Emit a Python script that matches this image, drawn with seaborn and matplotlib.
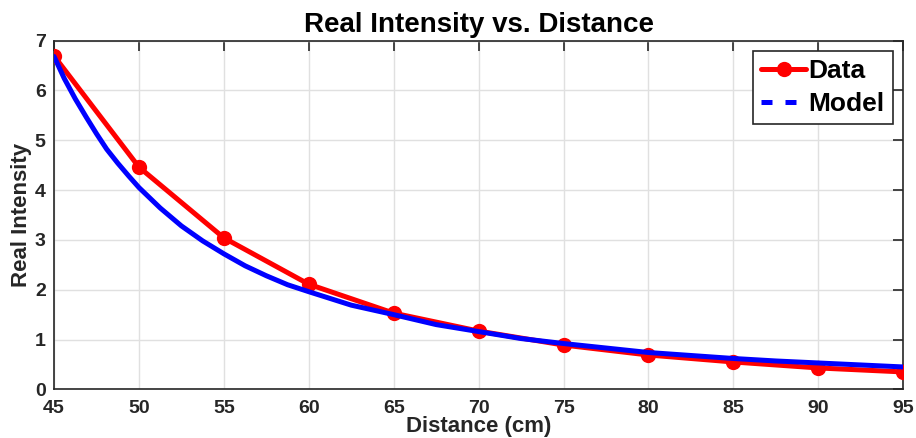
import matplotlib
matplotlib.use("Agg")
import matplotlib.pyplot as plt
from matplotlib.lines import Line2D
import seaborn as sns
import pandas as pd

# Measured data
distance = [45, 50, 55, 60, 65, 70, 75, 80, 85, 90, 95]
intensity = [6.69, 4.46, 3.04, 2.11, 1.53, 1.17, 0.89, 0.69, 0.55, 0.43, 0.35]

# Model curve
model_distance = [45, 45.6, 46.25, 46.9, 47.5, 48.1, 48.75, 49.4, 50, 51.25, 52.5, 53.75, 55,
                  56.25, 57.5, 58.75, 60, 62.5, 65, 67.5, 70, 72.5, 75, 77.5, 80, 82.5, 85,
                  87.5, 90, 92.5, 95]
model_intensity = [6.68, 6.24, 5.83, 5.46, 5.13, 4.82, 4.54, 4.28, 4.05, 3.64, 3.28, 2.98, 2.72,
                   2.48, 2.28, 2.10, 1.96, 1.69, 1.50, 1.30, 1.16, 1.02, 0.92, 0.83, 0.74, 0.68,
                   0.62, 0.57, 0.53, 0.49, 0.45]

x_ticks = [45, 50, 55, 60, 65, 70, 75, 80, 85, 90, 95]
y_ticks = [0, 1, 2, 3, 4, 5, 6, 7]

sns.set_style("white")
plt.rcParams['font.family'] = ['Liberation Sans', 'DejaVu Sans']
plt.rcParams['font.weight'] = 'bold'

df_data = pd.DataFrame({"d": distance, "i": intensity})
df_model = pd.DataFrame({"d": model_distance, "i": model_intensity})

fig = plt.figure(figsize=(9.16, 4.38), dpi=100)
ax = fig.add_axes([0.059, 0.111, 0.927, 0.7965])

sns.lineplot(data=df_data, x="d", y="i", ax=ax, color="#ff0000", lw=3.6,
             marker="o", markersize=11, markeredgewidth=0, zorder=3)
sns.lineplot(data=df_model, x="d", y="i", ax=ax, color="#0000ff", lw=3.6, zorder=4)

ax.set_xlim(45, 95)
ax.set_ylim(0, 7)
ax.set_xticks(x_ticks)
ax.set_yticks(y_ticks)
ax.set_xticklabels([str(v) for v in x_ticks], fontsize=14, fontweight='bold', color='#262626')
ax.set_yticklabels([str(v) for v in y_ticks], fontsize=14, fontweight='bold', color='#262626')
ax.tick_params(direction='in', length=7, width=1.2, top=True, right=True,
               colors='#262626', pad=6)
ax.tick_params(axis='x', pad=8)
ax.grid(True, color='#e0e0e0', lw=1)
for s in ax.spines.values():
    s.set_color('#262626')
    s.set_linewidth(1.2)

ax.set_xlabel("Distance (cm)", fontsize=16, fontweight='bold', color='#262626', labelpad=-1)
ax.set_ylabel("Real Intensity", fontsize=16, fontweight='bold', color='#262626', labelpad=2)
ax.set_title("Real Intensity vs. Distance", fontsize=20, fontweight='bold', color='black', pad=6)

handles = [
    Line2D([], [], color="#ff0000", lw=3.6, marker="o", markersize=11, markeredgewidth=0),
    Line2D([], [], color="#0000ff", lw=3.6, linestyle=(0, (2.2, 2.6))),
]
leg = ax.legend(handles, ["Data", "Model"], loc="upper right",
                prop={'weight': 'bold', 'size': 19}, frameon=True, fancybox=False,
                edgecolor='#262626', framealpha=1, handlelength=1.7,
                handletextpad=0.1, borderpad=0.3, labelspacing=0.35,
                borderaxespad=0.4)
leg.get_frame().set_linewidth(1.2)
for t in leg.get_texts():
    t.set_color('black')

fig.savefig("out.png", dpi=100)
